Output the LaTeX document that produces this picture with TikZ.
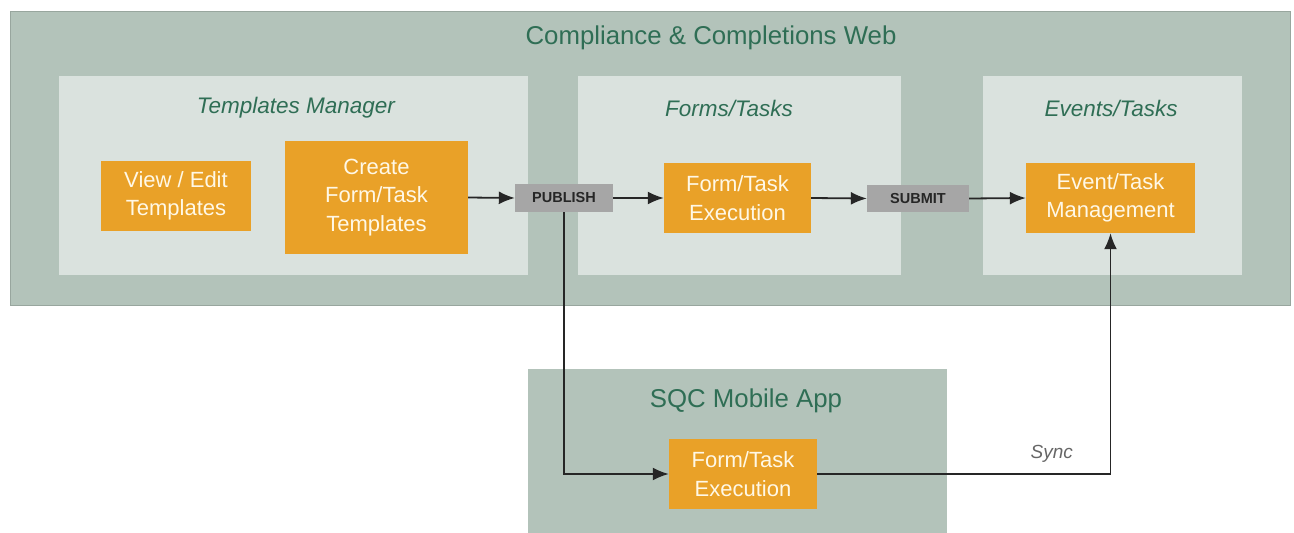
\documentclass[tikz,border=0pt]{standalone}
\usepackage{fontspec}
\setmainfont{Liberation Sans}
\usetikzlibrary{arrows.meta}
\definecolor{outerc}{HTML}{B3C3BA}
\definecolor{innerc}{HTML}{DAE2DE}
\definecolor{orangec}{HTML}{E9A128}
\definecolor{titlec}{HTML}{2F6E55}
\definecolor{tagc}{HTML}{A6A6A6}
\definecolor{txtc}{HTML}{FFF8E6}
\begin{document}
\begin{tikzpicture}[x=1pt,y=-1pt,
  outerbox/.style={fill=outerc, draw=outerc!85!black, line width=0.8pt, inner sep=0pt},
  innerbox/.style={fill=innerc, draw=none, inner sep=0pt},
  obox/.style={fill=orangec, draw=none, inner sep=0pt, text=txtc, align=center, font=\fontsize{22}{28.5}\selectfont},
  tag/.style={fill=tagc, draw=none, inner sep=0pt, text=black!85, font=\bfseries\fontsize{14.5}{16}\selectfont},
  grouptitle/.style={text=titlec, font=\itshape\fontsize{22.5}{26}\selectfont},
  maintitle/.style={text=titlec, font=\fontsize{25.8}{30}\selectfont},
  conn/.style={line width=1.8pt, black!85, -{Latex[length=16pt,width=13pt]}}
]
\useasboundingbox (0,0) rectangle (1294,533);
% outer containers
\node[outerbox, minimum width=1280pt, minimum height=294pt] (web) at (650,158) {};
\node[outerbox, draw=none, minimum width=419pt, minimum height=165pt] (mob) at (737.5,451.5) {};
\node[maintitle] (webtitle) at (711,38) {Compliance \& Completions Web};
\node[maintitle] (mobtitle) at (746,401) {SQC Mobile App};
% inner groups
\node[innerbox, minimum width=469pt, minimum height=199pt] (tm) at (293.5,175.5) {};
\node[innerbox, minimum width=323pt, minimum height=199pt] (ft) at (739.5,175.5) {};
\node[innerbox, minimum width=259pt, minimum height=199pt] (et) at (1112.5,175.5) {};
\node[grouptitle] (tmt) at (296,108) {Templates Manager};
\node[grouptitle] (ftt) at (729,108) {Forms/Tasks};
\node[grouptitle] (ett) at (1111,108) {Events/Tasks};
% orange boxes
\node[obox, minimum width=150pt, minimum height=70pt] (view) at (176,196) {View / Edit\\Templates};
\node[obox, minimum width=183pt, minimum height=113pt] (create) at (376.5,197.5) {Create\\Form/Task\\Templates};
\node[obox, minimum width=147pt, minimum height=70pt] (fexec) at (737.5,198) {Form/Task\\Execution};
\node[obox, minimum width=169pt, minimum height=70pt] (evt) at (1110.5,198) {Event/Task\\Management};
\node[obox, minimum width=148pt, minimum height=70pt] (mexec) at (743,474) {Form/Task\\Execution};
% tags
\node[tag, minimum width=98pt, minimum height=28pt] (pub) at (564,198) {PUBLISH};
\node[tag, minimum width=102pt, minimum height=27pt] (sub) at (918,198.5) {SUBMIT};
% connectors
\draw[conn] (create.east) -- (pub.west);
\draw[conn] (pub.east) -- (fexec.west);
\draw[conn] (fexec.east) -- (sub.west);
\draw[conn] (sub.east) -- (evt.west);
\draw[conn] (pub.south) |- (mexec.west);
\draw[conn] (mexec.east) -| node[pos=0.40, above=7pt, text=black!60, font=\itshape\fontsize{19}{22}\selectfont] (sync) {Sync} (evt.south);
\end{tikzpicture}
\end{document}
